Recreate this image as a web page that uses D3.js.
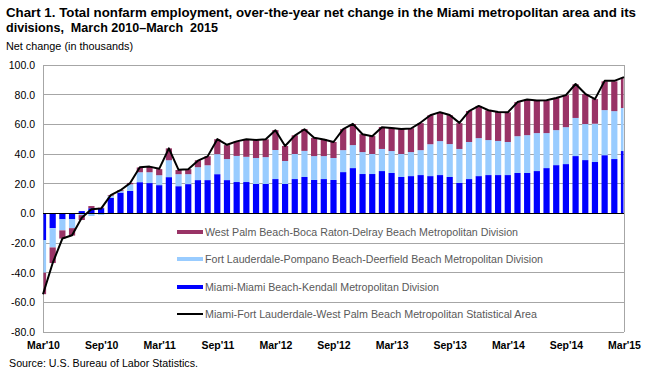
<!DOCTYPE html>
<html lang="en">
<head>
<meta charset="UTF-8">
<script src="https://d3js.org/d3.v7.min.js"></script>
<style>
  body { margin: 0; background: #fff; }
  svg { display: block; font-family: "Liberation Sans", Arial, sans-serif; }
</style>
</head>
<body>
<div id="chart"></div>
<script>
// Data (thousands), monthly Mar 2010 - Mar 2015
const months = d3.timeMonth.range(new Date(2010, 2, 1), new Date(2015, 3, 1));

const miami = [-18, -10, -4, -4, 1.5, 3.4, 3.5, 10.5, 14, 15.1,
  21, 20.4, 19, 24.4, 18.3, 19.7, 22.4, 22.4, 26.4, 22.4,
  21.1, 21.1, 19.8, 19.8, 23.1, 19.8, 23.1, 24.5, 22.5, 23.1,
  22.5, 27.8, 30.5, 26.5, 26.5, 28.5, 27.2, 24.5, 25.1, 25.8,
  25.1, 25.8, 24.5, 20.5, 23.1, 25.1, 25.8, 25.8, 25.8, 27.2,
  27.2, 28.5, 30.5, 32.5, 33.2, 38.6, 35.9, 34.6, 39.2, 36.6, 42];

const ftLauderdale = [-22, -13, -7.5, -6, -1.2, -1.8, -1, 1.2, 1.0, 4.5,
  6.7, 7.3, 6.7, 11.4, 8.1, 6.7, 8.7, 10, 13.5, 14.2,
  17.6, 17, 17.5, 18.1, 19.6, 15.5, 16.9, 17.6, 16.1, 15.5,
  14.8, 14.8, 15.5, 14.8, 13.5, 14.9, 14.8, 15.5, 16.2, 16.8,
  21.5, 22.9, 22.2, 22.9, 25, 25.6, 23.6, 23, 22.3, 24.8,
  25.5, 25.6, 23.6, 23.6, 24.9, 25.7, 24.3, 25.8, 30.4, 32.3, 29];

const westPalm = [-14.5, -10.5, -5.5, -5, -3.3, 1.5, 0.3, 0.5, 0.6, 0.9,
  3.2, 3.6, 4.1, 8, 2.8, 3.4, 4.7, 6.1, 10.1, 9.4,
  9.8, 12, 11.9, 12, 13.4, 10.1, 12.6, 14.7, 12.3, 11.5,
  10.8, 14.2, 14.2, 12.1, 12.1, 14.8, 15.6, 16.9, 16.1, 18.2,
  19.5, 19.5, 19.5, 17.4, 20.9, 21.7, 20, 19.5, 20, 23,
  23.9, 22.2, 22, 21.7, 21.6, 22.7, 20.2, 16.6, 19.4, 20.1, 20.6];

const msaTotal = [-54.5, -33.5, -17, -14.8, -3, 2.8, 3.2, 12.3, 15.6, 20.4,
  31, 31.5, 30, 43.8, 29.3, 29.8, 35.5, 38.4, 50, 46.2,
  48.5, 50, 49.4, 50, 56, 45.4, 52.4, 56.7, 50.9, 49.8,
  48.1, 56.7, 60.3, 53.3, 52, 58, 57.5, 56.8, 57.2, 61.2,
  66.1, 68.2, 66.3, 61, 68.9, 72.4, 69.5, 68.3, 68.1, 75,
  76.8, 76, 76.2, 77.7, 79.7, 87.2, 80.6, 77, 89.3, 89.3, 91.8];

const yTicks = [-80, -60, -40, -20, 0, 20, 40, 60, 80, 100];
const xTickLabels = ["Mar'10", "Sep'10", "Mar'11", "Sep'11", "Mar'12", "Sep'12",
  "Mar'13", "Sep'13", "Mar'14", "Sep'14", "Mar'15"];

const seriesKeys = ["miami", "ftLauderdale", "westPalm"];
const seriesColors = { miami: "#0000FF", ftLauderdale: "#99CCFF", westPalm: "#993366" };

const legendItems = [
  { label: "West Palm Beach-Boca Raton-Delray Beach Metropolitan Division", color: "#993366", type: "bar", len: 313 },
  { label: "Fort Lauderdale-Pompano Beach-Deerfield Beach Metropolitan Division", color: "#99CCFF", type: "bar", len: 338 },
  { label: "Miami-Miami Beach-Kendall Metropolitan Division", color: "#0000FF", type: "bar", len: 234 },
  { label: "Miami-Fort Lauderdale-West Palm Beach Metropolitan Statistical Area", color: "#000", type: "line", len: 332 }
];

const table = months.map((m, i) => ({
  month: m, miami: miami[i], ftLauderdale: ftLauderdale[i], westPalm: westPalm[i], total: msaTotal[i]
}));

// Dimensions
const width = 654, height = 375;
const plot = { left: 43, right: 624, top: 65, bottom: 332 };

const svg = d3.select("#chart").append("svg")
  .attr("width", width)
  .attr("height", height);

// Scales
const x = d3.scalePoint()
  .domain(months)
  .range([plot.left, plot.right]);

const y = d3.scaleLinear()
  .domain([-80, 100])
  .range([plot.bottom, plot.top]);

// Title
svg.append("text")
  .attr("x", 6).attr("y", 17)
  .attr("font-size", 12.5).attr("font-weight", "bold")
  .attr("textLength", 630).attr("lengthAdjust", "spacingAndGlyphs")
  .text("Chart 1. Total nonfarm employment, over-the-year net change in the Miami metropolitan area and its");

svg.append("text")
  .attr("x", 6).attr("y", 32)
  .attr("font-size", 12.5).attr("font-weight", "bold")
  .attr("textLength", 212).attr("lengthAdjust", "spacingAndGlyphs")
  .style("white-space", "pre")
  .text("divisions,  March 2010–March  2015");

svg.append("text")
  .attr("x", 6).attr("y", 50)
  .attr("font-size", 10)
  .attr("textLength", 127).attr("lengthAdjust", "spacingAndGlyphs")
  .text("Net change (in thousands)");

// Gridlines
svg.append("g")
  .selectAll("line")
  .data(yTicks.filter(d => d !== 0))
  .join("line")
  .attr("x1", plot.left).attr("x2", plot.right)
  .attr("y1", d => y(d)).attr("y2", d => y(d))
  .attr("stroke", "#a6a6a6").attr("stroke-width", 1)
  .attr("shape-rendering", "crispEdges");

// Frame sides
svg.append("line")
  .attr("x1", plot.left).attr("x2", plot.left)
  .attr("y1", plot.top).attr("y2", plot.bottom)
  .attr("stroke", "#a6a6a6").attr("shape-rendering", "crispEdges");
svg.append("line")
  .attr("x1", plot.right).attr("x2", plot.right)
  .attr("y1", plot.top).attr("y2", plot.bottom)
  .attr("stroke", "#a6a6a6").attr("shape-rendering", "crispEdges");

// Y axis labels
const yAxis = svg.append("g")
  .attr("transform", `translate(${plot.left},0)`)
  .call(d3.axisLeft(y).tickValues(yTicks).tickSize(0).tickPadding(8).tickFormat(d => d.toFixed(1)));
yAxis.select(".domain").remove();
yAxis.selectAll("text")
  .attr("font-size", 10.5)
  .attr("font-family", "\"Liberation Sans\", Arial, sans-serif")
  .attr("fill", "#000");

// X axis labels
const xAxis = svg.append("g")
  .attr("transform", `translate(0,${plot.bottom})`)
  .call(d3.axisBottom(x)
    .tickValues(months.filter((m, i) => i % 6 === 0))
    .tickSize(0).tickPadding(10)
    .tickFormat((d, i) => xTickLabels[i]));
xAxis.select(".domain").remove();
xAxis.selectAll("text")
  .attr("font-size", 10.5)
  .attr("font-weight", "bold")
  .attr("font-family", "\"Liberation Sans\", Arial, sans-serif")
  .attr("fill", "#000");

// Clip bars to plot area
svg.append("clipPath").attr("id", "plotClip")
  .append("rect")
  .attr("x", plot.left + 0.5).attr("y", plot.top)
  .attr("width", plot.right - plot.left - 1).attr("height", plot.bottom - plot.top);

// Stacked bars
const stack = d3.stack().keys(seriesKeys).offset(d3.stackOffsetDiverging);
const layers = stack(table);
const barWidth = 6.2;

svg.append("g")
  .attr("clip-path", "url(#plotClip)")
  .selectAll("g")
  .data(layers)
  .join("g")
  .attr("fill", d => seriesColors[d.key])
  .selectAll("rect")
  .data(d => d)
  .join("rect")
  .attr("x", d => x(d.data.month) - barWidth / 2)
  .attr("width", barWidth)
  .attr("y", d => y(Math.max(d[0], d[1])))
  .attr("height", d => Math.abs(y(d[0]) - y(d[1])));

// Zero line
svg.append("line")
  .attr("x1", plot.left).attr("x2", plot.right)
  .attr("y1", y(0)).attr("y2", y(0))
  .attr("stroke", "#000").attr("stroke-width", 1)
  .attr("shape-rendering", "crispEdges");

// Total line
svg.append("path")
  .datum(table)
  .attr("fill", "none")
  .attr("stroke", "#000")
  .attr("stroke-width", 2)
  .attr("stroke-linejoin", "round")
  .attr("d", d3.line().x(d => x(d.month)).y(d => y(d.total)));

// Legend
const legendY = [232, 259, 287, 314];
const legend = svg.append("g");
legend.selectAll("g")
  .data(legendItems)
  .join("g")
  .attr("transform", (d, i) => `translate(177,${legendY[i]})`)
  .each(function (d) {
    const g = d3.select(this);
    if (d.type === "bar") {
      g.append("rect").attr("x", 0).attr("y", -2).attr("width", 26).attr("height", 4).attr("fill", d.color);
    } else {
      g.append("line").attr("x1", 0).attr("x2", 26).attr("y1", 0).attr("y2", 0)
        .attr("stroke", d.color).attr("stroke-width", 2);
    }
    g.append("text")
      .attr("x", 28).attr("y", 4)
      .attr("font-size", 10.5)
      .attr("fill", "#595959")
      .attr("textLength", d.len).attr("lengthAdjust", "spacingAndGlyphs")
      .text(d.label);
  });

// Source
svg.append("text")
  .attr("x", 9).attr("y", 367)
  .attr("font-size", 11)
  .attr("textLength", 189).attr("lengthAdjust", "spacingAndGlyphs")
  .text("Source: U.S. Bureau of Labor Statistics.");
</script>
</body>
</html>
